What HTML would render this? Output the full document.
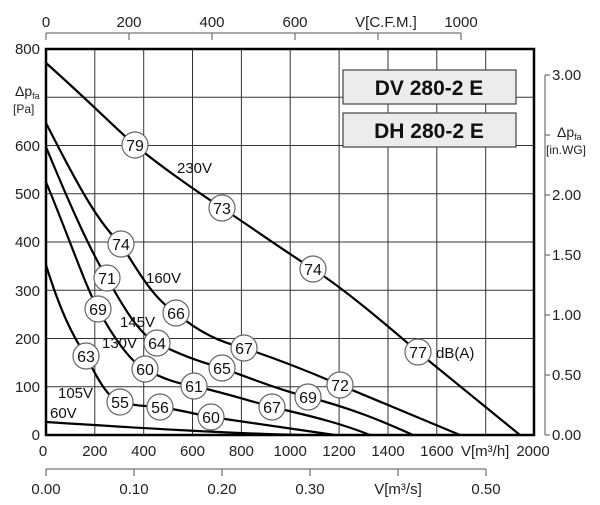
<!DOCTYPE html>
<html><head><meta charset="utf-8"><style>
html,body{margin:0;padding:0;background:#fff;}
svg{display:block;font-family:"Liberation Sans",sans-serif;}
</style></head><body>
<svg width="600" height="505" viewBox="0 0 600 505" xmlns="http://www.w3.org/2000/svg">
<g stroke="#333" stroke-width="1" fill="none">
<line x1="94.8" y1="49" x2="94.8" y2="435"/><line x1="143.7" y1="49" x2="143.7" y2="435"/>
<line x1="192.5" y1="49" x2="192.5" y2="435"/><line x1="241.4" y1="49" x2="241.4" y2="435"/>
<line x1="290.2" y1="49" x2="290.2" y2="435"/><line x1="339.1" y1="49" x2="339.1" y2="435"/>
<line x1="388" y1="49" x2="388" y2="435"/><line x1="436.8" y1="49" x2="436.8" y2="435"/>
<line x1="485.7" y1="49" x2="485.7" y2="435"/>
<line x1="46" y1="97.3" x2="534" y2="97.3"/><line x1="46" y1="145.5" x2="534" y2="145.5"/>
<line x1="46" y1="193.8" x2="534" y2="193.8"/><line x1="46" y1="242" x2="534" y2="242"/>
<line x1="46" y1="290.3" x2="534" y2="290.3"/><line x1="46" y1="338.5" x2="534" y2="338.5"/>
<line x1="46" y1="386.8" x2="534" y2="386.8"/>
</g>
<rect x="46" y="49" width="488" height="386" fill="none" stroke="#000" stroke-width="2.5"/>
<g stroke="#555" stroke-width="1">
<line x1="46" y1="33" x2="461" y2="33"/>
<line x1="46" y1="33" x2="46" y2="40"/><line x1="129" y1="33" x2="129" y2="40"/>
<line x1="212" y1="33" x2="212" y2="40"/><line x1="295" y1="33" x2="295" y2="40"/>
<line x1="378" y1="33" x2="378" y2="40"/><line x1="461" y1="33" x2="461" y2="40"/>
<line x1="545" y1="75" x2="545" y2="435"/>
<line x1="545" y1="75" x2="550" y2="75"/><line x1="545" y1="135" x2="550" y2="135"/>
<line x1="545" y1="195" x2="550" y2="195"/><line x1="545" y1="255" x2="550" y2="255"/>
<line x1="545" y1="315" x2="550" y2="315"/><line x1="545" y1="375" x2="550" y2="375"/>
<line x1="545" y1="435" x2="550" y2="435"/>
<line x1="46" y1="469" x2="486" y2="469"/>
<line x1="46" y1="469" x2="46" y2="476"/><line x1="134" y1="469" x2="134" y2="476"/>
<line x1="222" y1="469" x2="222" y2="476"/><line x1="310" y1="469" x2="310" y2="476"/>
<line x1="398" y1="469" x2="398" y2="476"/><line x1="486" y1="469" x2="486" y2="476"/>
</g>
<g font-size="15" fill="#222" text-anchor="middle">
<text x="46" y="27">0</text><text x="129" y="27">200</text><text x="212" y="27">400</text>
<text x="295" y="27">600</text><text x="386" y="27">V[C.F.M.]</text><text x="461" y="27">1000</text>
<text x="43" y="456">0</text><text x="94.8" y="456">200</text><text x="143.7" y="456">400</text>
<text x="192.5" y="456">600</text><text x="241.4" y="456">800</text><text x="290.2" y="456">1000</text>
<text x="339.1" y="456">1200</text><text x="388" y="456">1400</text><text x="436.8" y="456">1600</text>
<text x="533" y="456">2000</text>
<text x="46" y="494">0.00</text><text x="134" y="494">0.10</text><text x="222" y="494">0.20</text>
<text x="310" y="494">0.30</text><text x="398" y="494">V[m³/s]</text><text x="486" y="494">0.50</text>
</g>
<text x="461" y="456" font-size="15" fill="#222">V[m³/h]</text>
<g font-size="15" fill="#222" text-anchor="end">
<text x="40" y="54">800</text><text x="40" y="151">600</text><text x="40" y="199">500</text>
<text x="40" y="247">400</text><text x="40" y="296">300</text><text x="40" y="344">200</text>
<text x="40" y="392">100</text><text x="40" y="440">0</text>
</g>
<g font-size="15" fill="#222">
<text x="552" y="80">3.00</text><text x="552" y="200">2.00</text><text x="552" y="260">1.50</text>
<text x="552" y="320">1.00</text><text x="552" y="380">0.50</text><text x="552" y="440">0.00</text>
</g>
<text x="15" y="96" font-size="14" fill="#222">Δp<tspan font-size="9" dy="3">fa</tspan></text>
<text x="13" y="113" font-size="12" fill="#222">[Pa]</text>
<text x="557" y="137" font-size="14" fill="#222">Δp<tspan font-size="9" dy="3">fa</tspan></text>
<text x="546" y="154" font-size="12" fill="#222">[in.WG]</text>
<rect x="343" y="70" width="173" height="34" fill="#ececec" stroke="#444" stroke-width="1.2"/>
<rect x="343" y="113" width="173" height="34" fill="#ececec" stroke="#444" stroke-width="1.2"/>
<g font-size="21" font-weight="bold" text-anchor="middle" fill="#111">
<text x="429" y="95">DV 280-2 E</text><text x="429" y="138">DH 280-2 E</text>
</g>
<g stroke="#000" stroke-width="2.2" fill="none" stroke-linejoin="round">
<path d="M46,63 C90,102 115,128 135,145 S190,187 222,208 S280,248 313,269 S390,328 418,352 L520,435"/>
<path d="M46,123 C80,190 100,225 121,244 C140,275 155,300 176,313 C200,333 220,342 244,348 C280,360 310,372 340,385 L460,435"/>
<path d="M46,147 C70,205 90,250 107,278 C125,310 140,335 157,343 C180,355 200,362 222,368 C255,380 280,390 308,397 C350,408 380,420 413,435"/>
<path d="M46,182 C70,240 85,285 98,309 C112,335 130,362 145,369 C165,380 180,384 194,386 C225,393 250,401 272,407 C320,418 345,425 370,435"/>
<path d="M46,265 C60,310 72,335 86,356 C98,380 108,398 120,402 C135,406 148,406 160,407 C180,410 195,414 211,417 C260,424 300,430 335,435"/>
<path d="M46,422 C140,428 220,433 300,435"/>
</g>
<g fill="#fff" stroke="#666" stroke-width="1.2">
<circle cx="135" cy="145" r="13"/><circle cx="222" cy="208" r="13"/><circle cx="313" cy="269" r="13"/><circle cx="418" cy="352" r="13"/>
<circle cx="121" cy="244" r="13"/><circle cx="176" cy="313" r="13"/><circle cx="244" cy="348" r="13"/><circle cx="340" cy="385" r="13"/>
<circle cx="107" cy="278" r="13"/><circle cx="157" cy="343" r="13"/><circle cx="222" cy="368" r="13"/><circle cx="308" cy="397" r="13"/>
<circle cx="98" cy="309" r="13"/><circle cx="145" cy="369" r="13"/><circle cx="194" cy="386" r="13"/><circle cx="272" cy="407" r="13"/>
<circle cx="86" cy="356" r="13"/><circle cx="120" cy="402" r="13"/><circle cx="160" cy="407" r="13"/><circle cx="211" cy="417" r="13"/>
</g>
<g font-size="16" fill="#111" text-anchor="middle">
<text x="135" y="151">79</text><text x="222" y="214">73</text><text x="313" y="275">74</text><text x="418" y="358">77</text>
<text x="121" y="250">74</text><text x="176" y="319">66</text><text x="244" y="354">67</text><text x="340" y="391">72</text>
<text x="107" y="284">71</text><text x="157" y="349">64</text><text x="222" y="374">65</text><text x="308" y="403">69</text>
<text x="98" y="315">69</text><text x="145" y="375">60</text><text x="194" y="392">61</text><text x="272" y="413">67</text>
<text x="86" y="362">63</text><text x="120" y="408">55</text><text x="160" y="413">56</text><text x="211" y="423">60</text>
</g>
<g font-size="15" fill="#111">
<text x="177" y="173">230V</text><text x="146" y="283">160V</text><text x="120" y="327">145V</text>
<text x="102" y="348">130V</text><text x="58" y="398">105V</text><text x="50" y="418">60V</text>
<text x="436" y="358">dB(A)</text>
</g>
</svg>
</body></html>
